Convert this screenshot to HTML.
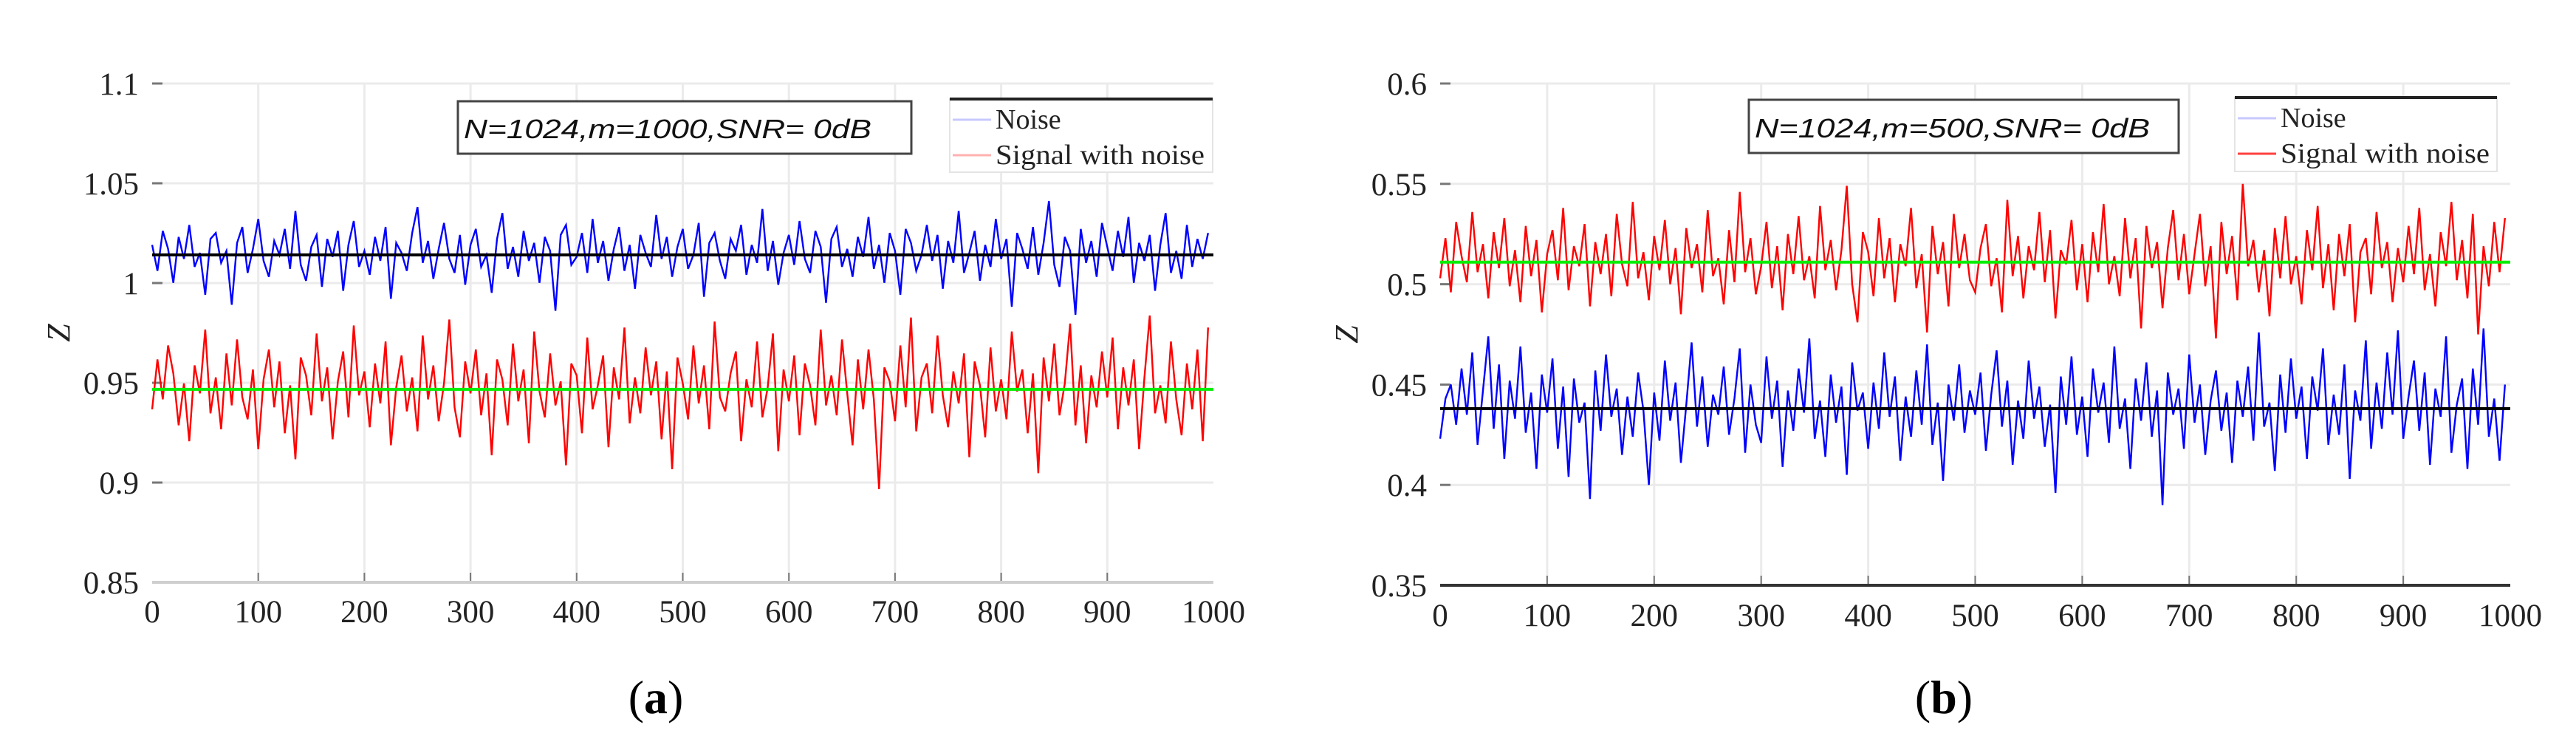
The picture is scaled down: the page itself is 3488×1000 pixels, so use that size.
<!DOCTYPE html>
<html><head><meta charset="utf-8"><style>
html,body{margin:0;padding:0;background:#fff;}
svg{display:block;}
</style></head><body>
<svg id="fig" width="3488" height="1000" viewBox="0 0 3488 1000" xmlns="http://www.w3.org/2000/svg"></svg>
<script>
const xTicks=[0,100,200,300,400,500,600,700,800,900,1000];
const yTicksA=[0.85,0.9,0.95,1,1.05,1.1];
const yTickLabelsA=["0.85","0.9","0.95","1","1.05","1.1"];
const yTicksB=[0.35,0.4,0.45,0.5,0.55,0.6];
const yTickLabelsB=["0.35","0.4","0.45","0.5","0.55","0.6"];
const sampleStep=5;
const noiseMeanA=1.0141, signalMeanA=0.9467, noiseMeanB=0.438, signalMeanB=0.511;
// deviations in milli-units from the mean
const noiseA=[5,-8,12,3,-14,9,-2,15,-6,1,-20,8,11,-4,2,-25,6,14,-9,3,
18,-3,-11,7,0,13,-7,22,-5,-13,4,10,-16,8,-1,12,-18,5,17,-6,
2,-10,9,-3,14,-22,6,1,-8,11,24,-4,7,-12,3,16,-2,-9,10,-15,
5,13,-6,0,-19,8,21,-7,4,-11,12,-3,6,-14,9,2,-28,10,15,-5,
-1,11,-9,18,-4,7,-13,3,14,-8,5,-17,10,1,-6,20,-2,9,-11,4,
13,-7,0,16,-21,6,11,-3,-12,8,2,15,-10,5,-4,23,-8,7,-15,1,
10,-5,17,-2,-9,12,4,-24,8,14,-6,3,-11,9,-1,19,-7,5,-14,11,
2,-20,13,6,-8,0,15,-3,10,-17,7,-4,22,-9,1,12,-13,5,-6,18,
-2,8,-26,11,3,-7,14,-10,6,27,-5,-16,9,2,-30,13,-4,7,-11,16,
4,-8,12,-1,19,-14,6,-3,10,-18,5,21,-9,2,-12,15,-6,8,-2,11];
const signalA=[-10,15,-5,22,8,-18,3,-26,12,-2,30,-12,6,-20,18,-8,25,-4,-15,10,
-30,5,20,-9,14,-22,2,-35,16,7,-13,28,-6,11,-25,4,19,-14,32,-3,
9,-19,13,-7,24,-28,1,17,-11,6,-21,27,-5,12,-16,3,35,-9,-24,14,
-2,20,-13,8,-33,15,5,-18,23,-6,10,-27,29,-1,-14,18,-8,4,-38,13,
7,-22,26,-10,2,17,-29,11,-5,31,-17,6,-12,21,-3,14,-25,9,-40,16,
3,-15,22,-7,12,-20,34,-4,-11,8,19,-26,5,-9,24,-14,1,28,-31,10,
-6,17,-23,13,2,-18,30,-8,7,-13,25,-2,-28,15,-10,20,-5,-50,11,4,
-16,22,-9,36,-21,6,13,-12,27,-3,-19,9,-7,18,-34,14,2,-24,21,-11,
5,-15,29,-1,10,-22,8,-42,16,-6,23,-13,3,33,-18,12,-27,7,-9,19,
-4,26,-20,11,-8,15,-30,6,37,-12,2,-17,24,-5,-23,13,-10,20,-26,31];
const noiseB=[-15,5,12,-8,20,-3,28,-18,9,36,-10,22,-25,14,-5,31,-12,8,-30,17,
-2,25,-20,11,-34,15,-7,3,-45,19,-11,27,-4,10,-23,6,-14,18,-1,-38,
8,-16,24,-6,13,-27,2,33,-9,16,-19,7,-3,21,-13,5,30,-22,12,-8,
-17,26,-5,14,-29,9,-11,20,-2,35,-15,4,-24,17,-7,11,-33,23,-1,8,
-20,13,-10,28,-4,16,-26,6,-14,19,-8,32,-18,3,-36,12,-6,22,-12,9,
-3,18,-21,7,29,-9,14,-28,4,-15,24,-5,11,-19,2,-42,16,-8,26,-13,
6,-24,20,-2,13,-17,31,-10,5,-30,15,-6,23,-14,9,-48,18,-3,10,-20,
27,-7,12,-23,4,19,-11,8,-27,14,-4,21,-16,38,-9,3,-31,17,-12,25,
-5,11,-25,16,-1,30,-18,7,-13,22,-35,9,-6,34,-20,13,-10,28,-3,39,
-15,6,24,-11,18,-28,10,-4,36,-22,2,15,-30,20,-8,40,-14,5,-26,12];
const signalB=[-8,12,-15,20,3,-10,25,-5,9,-18,15,-3,22,-12,6,-20,18,-7,11,-25,
4,16,-9,27,-14,8,-2,19,-22,10,-6,14,-17,24,-1,-12,30,-8,5,-19,
13,-4,21,-11,7,-26,17,-3,9,-15,26,-7,2,-21,16,-10,35,-5,12,-16,
-2,20,-13,8,-24,14,-6,23,-9,3,-18,28,-4,11,-14,6,38,-11,-30,15,
5,-17,22,-8,12,-20,9,-2,27,-13,4,-35,18,-6,10,-22,24,-3,14,-9,
-15,7,19,-12,2,-25,31,-7,13,-18,8,-4,25,-10,16,-28,6,-1,21,-14,
9,-20,15,-5,29,-11,3,-17,22,-8,12,-33,18,-3,10,-23,7,26,-9,14,
-16,4,24,-12,8,-38,20,-6,13,-19,39,-2,11,-15,6,-27,17,-8,23,-11,
3,-21,16,-4,28,-13,9,-24,14,-7,19,-30,5,12,-16,25,-3,10,-20,7,
-10,18,-6,27,-14,4,-22,15,-2,30,-9,11,-18,24,-36,8,-12,20,-5,22];

const NS="http://www.w3.org/2000/svg";
const svg=document.getElementById('fig');
function mk(tag,attrs,parent){const e=document.createElementNS(NS,tag);for(const k in attrs)e.setAttribute(k,attrs[k]);(parent||svg).appendChild(e);return e;}

function panel(cfg){
  const g=mk('g',{});
  
  
  const sx=v=>cfg.x0+(v-0)/1000*(cfg.x1-cfg.x0);
  const sy=v=>cfg.yb+(v-cfg.ymin)/(cfg.ymax-cfg.ymin)*(cfg.yt-cfg.yb);
  cfg.yticks.forEach((t,i)=>{
    const y=sy(t);
    if(i>0){const gl=mk('line',{x1:cfg.x0+14,x2:cfg.x1,y1:y,y2:y,stroke:'#ebebeb','stroke-width':3},g);
      }
    const tk=mk('line',{x1:cfg.x0,x2:cfg.x0+14,y1:y,y2:y,stroke:'#777','stroke-width':3},g);
    
    const tx=mk('text',{x:cfg.x0-18,y:y+15,'text-anchor':'end','font-family':'Liberation Serif, serif','font-size':43,fill:'#222'},g);
    tx.textContent=cfg.ylabels[i];
    
  });
  xTicks.forEach(t=>{
    const x=sx(t);
    if(t>0&&t<1000){const gl=mk('line',{x1:x,x2:x,y1:cfg.yt,y2:cfg.yb,stroke:'#ebebeb','stroke-width':3},g);
      
      const tk=mk('line',{x1:x,x2:x,y1:cfg.yb-13,y2:cfg.yb,stroke:'#777','stroke-width':2},g);
      }
    const tx=mk('text',{x:x,y:cfg.xlabY,'text-anchor':'middle','font-family':'Liberation Serif, serif','font-size':43,fill:'#222'},g);
    tx.textContent=String(t);
    
  });
  const ax=mk('line',{x1:cfg.x0,x2:cfg.x1,y1:cfg.yb,y2:cfg.yb,stroke:cfg.axisColor,'stroke-width':4},g);
  
  function series(arr,mean,color,name){
    const pts=arr.map((d,i)=>sx(i*sampleStep).toFixed(1)+','+sy(mean+d/1000).toFixed(1)).join(' ');
    const p=mk('polyline',{points:pts,fill:'none',stroke:color,'stroke-width':2.4,'stroke-linejoin':'miter'},g);
    
  }
  function meanLine(mean,color,name){
    const l=mk('line',{x1:cfg.x0,x2:cfg.x1,y1:sy(mean),y2:sy(mean),stroke:color,'stroke-width':4},g);
    
  }
  series(cfg.noise,cfg.noiseMean,'#0000ff','noise-series');
  series(cfg.signal,cfg.signalMean,'#ff0000','signal-series');
  meanLine(cfg.noiseMean,'#000','noise-mean-line');
  meanLine(cfg.signalMean,'#00ee00','signal-mean-line');
  const zl=mk('text',{x:0,y:0,transform:`translate(${cfg.x0-112},${(cfg.yt+cfg.yb)/2}) rotate(-90)`,'text-anchor':'middle','font-family':'Liberation Serif, serif','font-style':'italic','font-size':44,fill:'#222'},g);
  zl.textContent='Z';
  const b=cfg.box;
  const br=mk('rect',{x:b[0],y:b[1],width:b[2]-b[0],height:b[3]-b[1],fill:'#fff',stroke:'#444','stroke-width':3},g);
  
  const bt=mk('text',{x:b[0]+8,y:b[3]-21,'font-family':'Liberation Sans, sans-serif','font-style':'italic','font-size':36,fill:'#111',textLength:cfg.boxTextLen,lengthAdjust:'spacingAndGlyphs'},g);
  bt.textContent=cfg.boxText;
  const L=cfg.legend;
  const lg=mk('g',{},g);
  const lr=mk('rect',{x:L[0],y:L[1],width:L[2]-L[0],height:L[3]-L[1],fill:'#fff',stroke:'#e4e4e4','stroke-width':2},lg);
  
  const lt=mk('line',{x1:L[0],x2:L[2],y1:L[1],y2:L[1],stroke:'#222','stroke-width':4},lg);
  
  const entries=[['Noise','#c8c8ff',40],['Signal with noise',cfg.sigSwatch,88]];
  entries.forEach((e,i)=>{
    const en=mk('g',{},lg);
    const y=L[1]+e[2];
    mk('line',{x1:L[0]+4,x2:L[0]+56,y1:y-12,y2:y-12,stroke:e[1],'stroke-width':3},en);
    const t=mk('text',{x:L[0]+62,y:y,'font-family':'Liberation Serif, serif','font-size':38,fill:'#222'},en);
    if(i===1){t.setAttribute('textLength',283);t.setAttribute('lengthAdjust','spacingAndGlyphs');}
    t.textContent=e[0];
  });
  const sl=mk('text',{x:cfg.subX,y:965,'text-anchor':'middle','font-family':'Liberation Serif, serif','font-size':64,fill:'#000'},g);
  
  const t1=mk('tspan',{},sl);t1.textContent='(';
  const t2=mk('tspan',{'font-weight':'bold'},sl);t2.textContent=cfg.sub;
  const t3=mk('tspan',{},sl);t3.textContent=')';
}

panel({name:'panel-a',x0:206,x1:1643,yt:113,yb:788,ymin:0.85,ymax:1.1,yticks:yTicksA,ylabels:yTickLabelsA,
  xlabY:842,axisColor:'#cfcfcf',noise:noiseA,signal:signalA,noiseMean:noiseMeanA,signalMean:signalMeanA,
  box:[620,137,1234,208],boxText:'N=1024,m=1000,SNR= 0dB',boxTextLen:552,
  legend:[1286,134,1642,233],sigSwatch:'#ffb0b0',subX:888,sub:'a'});
panel({name:'panel-b',x0:1950,x1:3399,yt:113,yb:792,ymin:0.35,ymax:0.6,yticks:yTicksB,ylabels:yTickLabelsB,
  xlabY:847,axisColor:'#333',noise:noiseB,signal:signalB,noiseMean:noiseMeanB,signalMean:signalMeanB,
  box:[2368,135,2950,207],boxText:'N=1024,m=500,SNR= 0dB',boxTextLen:535,
  legend:[3026,132,3381,232],sigSwatch:'#ff4040',subX:2632,sub:'b'});
</script>
</body></html>
